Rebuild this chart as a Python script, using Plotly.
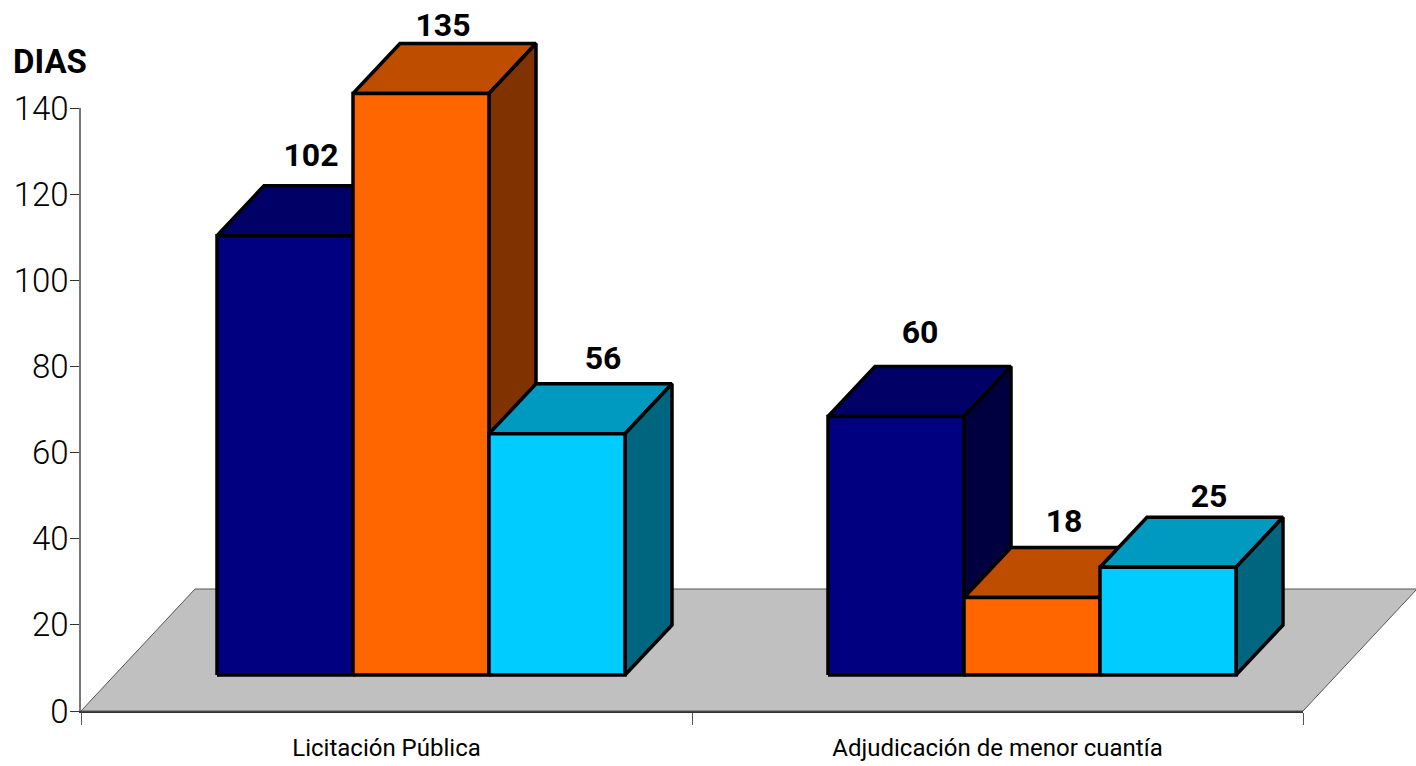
import plotly.graph_objects as go

categories = ["Licitación Pública", "Adjudicación de menor cuantía"]
series_a = [102, 60]
series_b = [135, 18]
series_c = [56, 25]
y_ticks = [0, 20, 40, 60, 80, 100, 120, 140]

FRONT = ["#000080", "#FF6600", "#00CCFF"]
TOP = ["#000066", "#BF4D00", "#0099BF"]
SIDE = ["#000040", "#803300", "#006680"]
FONT = "Roboto"

W, H = 1416, 766
X0, X2, Y0, Y140 = 81, 1303, 711, 108
PX_X = (X2 - X0) / 2
PX_Y = (Y0 - Y140) / 140

BAR_W = 136 / PX_X
DEPTH_X = 47 / PX_X
DEPTH_Y = 50 / PX_Y
BASE = 36 / PX_Y
GROUP_CENTER = 340 / PX_X
FLOOR_X = 114 / PX_X
FLOOR_Y = 122 / PX_Y

LABEL_DX = [[26, 22, 46], [24, 32, 41]]
LABEL_DY = [[78, 66, 73], [82, 73, 68]]

fig = go.Figure()

# invisible trace so the primary axes exist
fig.add_trace(go.Scatter(x=[0, 2], y=[0, 140], mode="markers", marker=dict(opacity=0),
                         xaxis="x", yaxis="y", hoverinfo="skip", showlegend=False))


def poly(xs, ys, color, width=3.5, line="#000000"):
    fig.add_trace(go.Scatter(
        x=xs + xs[:1], y=ys + ys[:1], mode="lines", fill="toself", fillcolor=color,
        line=dict(color=line, width=width), xaxis="x2", yaxis="y2",
        hoverinfo="skip", showlegend=False))


# floor
poly([0, FLOOR_X, 2 + FLOOR_X, 2], [0, FLOOR_Y, FLOOR_Y, 0], "#C0C0C0", width=1, line="#555555")

lx, ly, lt = [], [], []
for g in range(len(categories)):
    values = [series_a[g], series_b[g], series_c[g]]
    for s, v in enumerate(values):
        left = g + GROUP_CENTER + (s - 1.5) * BAR_W
        right = left + BAR_W
        top = BASE + v
        poly([left, right, right + DEPTH_X, left + DEPTH_X],
             [top, top, top + DEPTH_Y, top + DEPTH_Y], TOP[s])
        poly([right, right + DEPTH_X, right + DEPTH_X, right],
             [BASE, BASE + DEPTH_Y, top + DEPTH_Y, top], SIDE[s])
        poly([left, right, right, left], [BASE, BASE, top, top], FRONT[s])
        lx.append((left + right) / 2 + LABEL_DX[g][s] / PX_X)
        ly.append(top + LABEL_DY[g][s] / PX_Y)
        lt.append(str(v))

fig.add_trace(go.Scatter(
    x=lx, y=ly, text=lt, mode="text", textposition="middle center",
    textfont=dict(family=FONT, size=32, color="#000000", weight=700),
    xaxis="x2", yaxis="y2", hoverinfo="skip", showlegend=False, cliponaxis=False))

fig.update_layout(
    template="none",
    width=W, height=H, margin=dict(l=0, r=0, t=0, b=0, pad=0),
    paper_bgcolor="#FFFFFF", plot_bgcolor="rgba(0,0,0,0)", showlegend=False,
    xaxis=dict(
        domain=[X0 / W, X2 / W], range=[0, 2], anchor="y", automargin=False,
        tickvals=[0.5, 1.5], ticktext=categories, ticks="", showgrid=False, zeroline=False,
        showline=True, linecolor="#333333", linewidth=1.5,
        tickfont=dict(family=FONT, size=24, color="#000000"),
        ticklabelstandoff=14,
        minor=dict(tickvals=[0, 1, 2], ticks="outside", ticklen=12, tickwidth=1, tickcolor="#555555"),
    ),
    yaxis=dict(
        domain=[(H - Y0) / H, (H - Y140) / H], range=[0, 140], anchor="x", automargin=False,
        tickvals=y_ticks, ticks="outside", ticklen=9, tickwidth=1, tickcolor="#333333",
        showgrid=False, zeroline=False, showline=True, linecolor="#777777", linewidth=1.5,
        tickfont=dict(family=FONT, size=33, color="#000000", weight=300),
        ticklabelstandoff=-5,
    ),
    xaxis2=dict(domain=[0, 1], range=[-X0 / PX_X, (W - X0) / PX_X], anchor="y2",
                visible=False, automargin=False),
    yaxis2=dict(domain=[0, 1], range=[(Y0 - H) / PX_Y, Y0 / PX_Y], anchor="x2",
                visible=False, automargin=False),
    annotations=[dict(text="DIAS", xref="paper", yref="paper", x=50 / W, y=(H - 62) / H,
                      xanchor="center", yanchor="middle", showarrow=False,
                      font=dict(family=FONT, size=33, color="#000000", weight=700))],
)

fig.write_html("out.html", config=dict(displayModeBar=False),
               post_script="document.body.style.margin='0';document.body.style.overflow='hidden';")
